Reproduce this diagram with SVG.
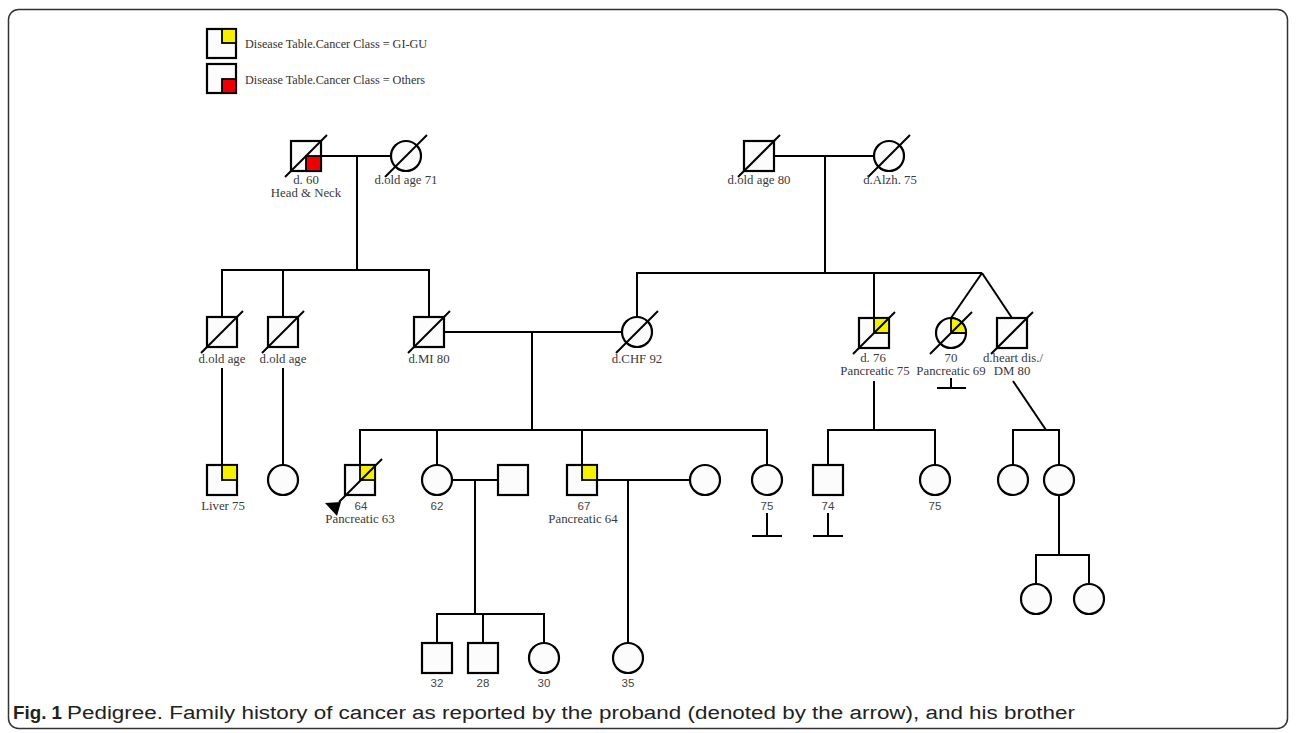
<svg xmlns="http://www.w3.org/2000/svg" width="1296" height="733" viewBox="0 0 1296 733">
<style>
.ln{stroke:#000;stroke-width:2;fill:none}
.sym{stroke:#000;stroke-width:2.2;fill:#fcfcfc}
.dx{stroke:#000;stroke-width:2}
.y{fill:#f5f000;stroke:#000;stroke-width:1.8}
.r{fill:#ee0000;stroke:#000;stroke-width:1.8}
.t{font-family:"Liberation Serif",serif;font-size:12.8px;fill:#3a3a3a;text-anchor:middle}
.n{font-family:"Liberation Sans",sans-serif;font-size:11.5px;fill:#444;text-anchor:middle}
.lg{font-family:"Liberation Serif",serif;font-size:12.2px;fill:#333}
.cap{font-family:"Liberation Sans",sans-serif;font-size:18px;fill:#222}
</style>
<rect x="0" y="0" width="1296" height="733" fill="#fff"/>
<rect x="8.5" y="9.5" width="1279" height="719" rx="10" fill="none" stroke="#333" stroke-width="1.5"/>

<g id="legend">
<rect x="207" y="29" width="29" height="29" class="sym"/>
<rect x="222" y="29" width="14" height="14" class="y"/>
<text x="245" y="48" class="lg">Disease Table.Cancer Class = GI-GU</text>
<rect x="207" y="64" width="29" height="29" class="sym"/>
<rect x="222" y="79" width="14" height="14" class="r"/>
<text x="245" y="84" class="lg">Disease Table.Cancer Class = Others</text>
</g>

<g id="connectors">
<line x1="321" y1="156" x2="391" y2="156" class="ln"/>
<line x1="357" y1="156" x2="357" y2="270" class="ln"/>
<line x1="774" y1="156" x2="874" y2="156" class="ln"/>
<line x1="825" y1="156" x2="825" y2="274" class="ln"/>
<line x1="221" y1="270" x2="430" y2="270" class="ln"/>
<line x1="222" y1="270" x2="222" y2="317" class="ln"/>
<line x1="283" y1="270" x2="283" y2="317" class="ln"/>
<line x1="429" y1="270" x2="429" y2="317" class="ln"/>
<line x1="636" y1="273" x2="982" y2="273" class="ln"/>
<line x1="637" y1="273" x2="637" y2="317" class="ln"/>
<line x1="874" y1="273" x2="874" y2="318" class="ln"/>
<line x1="982" y1="273" x2="951" y2="318" class="ln"/>
<line x1="982" y1="273" x2="1012" y2="318" class="ln"/>
<line x1="444" y1="332" x2="622" y2="332" class="ln"/>
<line x1="532" y1="332" x2="532" y2="430" class="ln"/>
<line x1="222" y1="368" x2="222" y2="465" class="ln"/>
<line x1="283" y1="368" x2="283" y2="465" class="ln"/>
<line x1="874" y1="381" x2="874" y2="430" class="ln"/>
<line x1="1013" y1="381" x2="1046" y2="430" class="ln"/>
<line x1="951" y1="378" x2="951" y2="388" class="ln"/>
<line x1="937" y1="388" x2="966" y2="388" class="ln"/>
<line x1="359" y1="430" x2="768" y2="430" class="ln"/>
<line x1="360" y1="430" x2="360" y2="465" class="ln"/>
<line x1="437" y1="430" x2="437" y2="465" class="ln"/>
<line x1="582" y1="430" x2="582" y2="465" class="ln"/>
<line x1="767" y1="430" x2="767" y2="465" class="ln"/>
<line x1="827" y1="430" x2="936" y2="430" class="ln"/>
<line x1="828" y1="430" x2="828" y2="465" class="ln"/>
<line x1="935" y1="430" x2="935" y2="465" class="ln"/>
<line x1="1012" y1="430" x2="1060" y2="430" class="ln"/>
<line x1="1013" y1="430" x2="1013" y2="465" class="ln"/>
<line x1="1059" y1="430" x2="1059" y2="465" class="ln"/>
<line x1="452" y1="480" x2="498" y2="480" class="ln"/>
<line x1="475" y1="480" x2="475" y2="614" class="ln"/>
<line x1="597" y1="480" x2="690" y2="480" class="ln"/>
<line x1="628" y1="480" x2="628" y2="643" class="ln"/>
<line x1="767" y1="513" x2="767" y2="536" class="ln"/>
<line x1="752" y1="536" x2="782" y2="536" class="ln"/>
<line x1="828" y1="513" x2="828" y2="536" class="ln"/>
<line x1="813" y1="536" x2="843" y2="536" class="ln"/>
<line x1="1059" y1="495" x2="1059" y2="555" class="ln"/>
<line x1="1035" y1="555" x2="1090" y2="555" class="ln"/>
<line x1="1036" y1="555" x2="1036" y2="584" class="ln"/>
<line x1="1089" y1="555" x2="1089" y2="584" class="ln"/>
<line x1="436" y1="614" x2="545" y2="614" class="ln"/>
<line x1="437" y1="614" x2="437" y2="643" class="ln"/>
<line x1="483" y1="614" x2="483" y2="643" class="ln"/>
<line x1="544" y1="614" x2="544" y2="643" class="ln"/>
</g>

<g id="I1"><rect x="291" y="141" width="30" height="30" class="sym"/><rect x="306" y="156" width="15" height="15" class="r"/><line x1="285" y1="177" x2="327" y2="135" class="dx"/><text x="306" y="184" class="t">d. 60</text><text x="306" y="197" class="t">Head &amp; Neck</text></g>
<g id="I2"><circle cx="406" cy="156" r="15" class="sym"/><line x1="385" y1="177" x2="427" y2="135" class="dx"/><text x="406" y="184" class="t">d.old age 71</text></g>
<g id="I3"><rect x="744" y="141" width="30" height="30" class="sym"/><line x1="738" y1="177" x2="780" y2="135" class="dx"/><text x="759" y="184" class="t">d.old age 80</text></g>
<g id="I4"><circle cx="889" cy="156" r="15" class="sym"/><line x1="868" y1="177" x2="910" y2="135" class="dx"/><text x="890" y="184" class="t">d.Alzh. 75</text></g>

<g id="II1"><rect x="207" y="317" width="30" height="30" class="sym"/><line x1="201" y1="353" x2="243" y2="311" class="dx"/><text x="222" y="363" class="t">d.old age</text></g>
<g id="II2"><rect x="268" y="317" width="30" height="30" class="sym"/><line x1="262" y1="353" x2="304" y2="311" class="dx"/><text x="283" y="363" class="t">d.old age</text></g>
<g id="II3"><rect x="414" y="317" width="30" height="30" class="sym"/><line x1="408" y1="353" x2="450" y2="311" class="dx"/><text x="429" y="363" class="t">d.MI 80</text></g>
<g id="II4"><circle cx="637" cy="332" r="15" class="sym"/><line x1="616" y1="353" x2="658" y2="311" class="dx"/><text x="637" y="363" class="t">d.CHF 92</text></g>
<g id="II5"><rect x="859" y="318" width="30" height="30" class="sym"/><rect x="874" y="318" width="15" height="15" class="y"/><line x1="853" y1="354" x2="895" y2="312" class="dx"/><text x="873" y="362" class="t">d. 76</text><text x="875" y="375" class="t">Pancreatic 75</text></g>
<g id="II6"><circle cx="951" cy="333" r="15" class="sym"/><path d="M951,333 L951,318 A15,15 0 0 1 966,333 Z" class="y"/><line x1="930" y1="354" x2="972" y2="312" class="dx"/><text x="951" y="362" class="t">70</text><text x="951" y="375" class="t">Pancreatic 69</text></g>
<g id="II7"><rect x="997" y="318" width="30" height="30" class="sym"/><line x1="991" y1="354" x2="1033" y2="312" class="dx"/><text x="1013" y="362" class="t">d.heart dis./</text><text x="1012" y="375" class="t">DM 80</text></g>

<g id="III1"><rect x="207" y="465" width="30" height="30" class="sym"/><rect x="222" y="465" width="15" height="15" class="y"/><text x="223" y="510" class="t">Liver 75</text></g>
<g id="III2"><circle cx="283" cy="480" r="15" class="sym"/></g>
<g id="III3"><rect x="345" y="465" width="30" height="30" class="sym"/><rect x="360" y="465" width="15" height="15" class="y"/><line x1="339" y1="502" x2="382" y2="459" class="dx"/><polygon points="325,503 341,502 337,516" fill="#000"/><text x="361" y="510" class="n">64</text><text x="360" y="523" class="t">Pancreatic 63</text></g>
<g id="III4"><circle cx="437" cy="480" r="15" class="sym"/><text x="437" y="510" class="n">62</text></g>
<g id="III5"><rect x="498" y="465" width="30" height="30" class="sym"/></g>
<g id="III6"><rect x="567" y="465" width="30" height="30" class="sym"/><rect x="582" y="465" width="15" height="15" class="y"/><text x="584" y="510" class="n">67</text><text x="583" y="523" class="t">Pancreatic 64</text></g>
<g id="III7"><circle cx="705" cy="480" r="15" class="sym"/></g>
<g id="III8"><circle cx="767" cy="480" r="15" class="sym"/><text x="767" y="510" class="n">75</text></g>
<g id="III9"><rect x="813" y="465" width="30" height="30" class="sym"/><text x="828" y="510" class="n">74</text></g>
<g id="III10"><circle cx="935" cy="480" r="15" class="sym"/><text x="935" y="510" class="n">75</text></g>
<g id="III11"><circle cx="1013" cy="480" r="15" class="sym"/></g>
<g id="III12"><circle cx="1059" cy="480" r="15" class="sym"/></g>

<g id="IV1"><rect x="422" y="643" width="30" height="30" class="sym"/><text x="437" y="687" class="n">32</text></g>
<g id="IV2"><rect x="468" y="643" width="30" height="30" class="sym"/><text x="483" y="687" class="n">28</text></g>
<g id="IV3"><circle cx="544" cy="658" r="15" class="sym"/><text x="544" y="687" class="n">30</text></g>
<g id="IV4"><circle cx="628" cy="658" r="15" class="sym"/><text x="628" y="687" class="n">35</text></g>
<g id="IV5"><circle cx="1036" cy="599" r="15" class="sym"/></g>
<g id="IV6"><circle cx="1089" cy="599" r="15" class="sym"/></g>

<g id="caption">
<text x="13" y="719" class="cap" font-weight="bold" textLength="49" lengthAdjust="spacingAndGlyphs">Fig. 1</text>
<text x="67" y="719" class="cap" textLength="1008" lengthAdjust="spacingAndGlyphs">Pedigree. Family history of cancer as reported by the proband (denoted by the arrow), and his brother</text>
</g>
</svg>
